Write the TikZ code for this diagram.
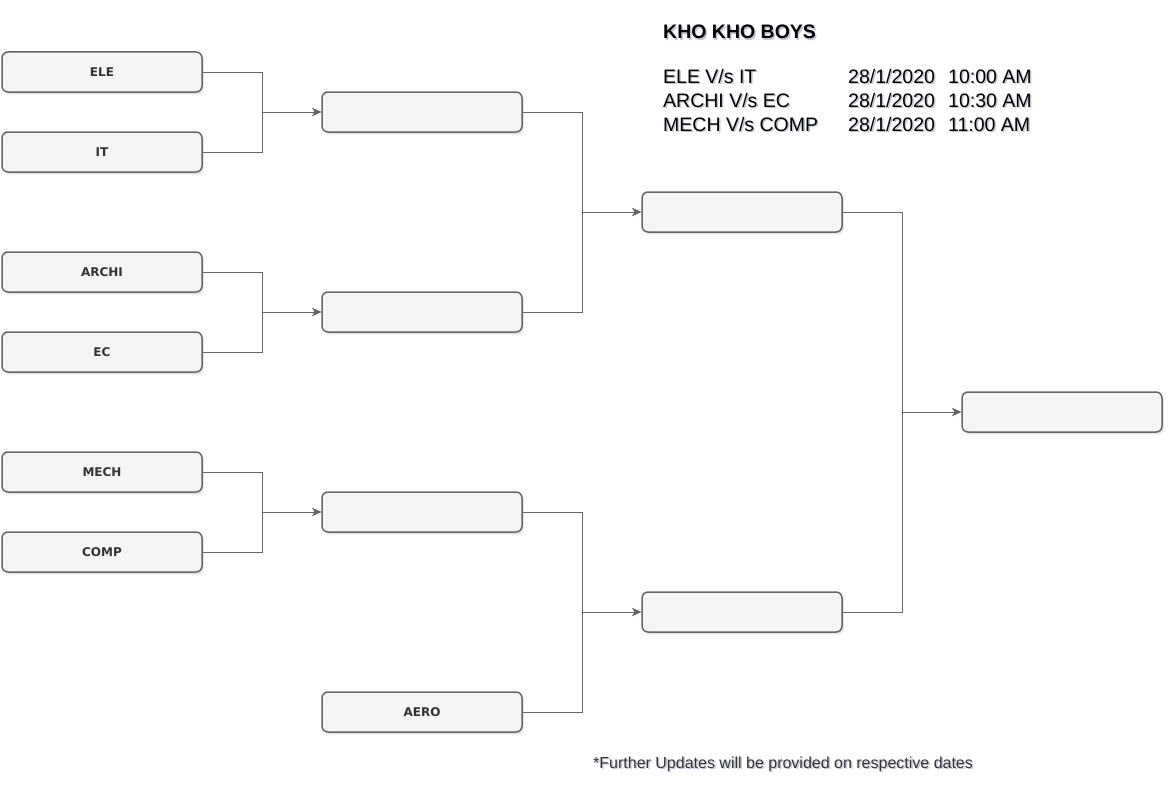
\documentclass[tikz,border=0pt]{standalone}
\usepackage{fontspec}
\setmainfont{Liberation Sans}
\newfontfamily\teamfont{DejaVu Sans}
\usetikzlibrary{arrows.meta, shadows}
\definecolor{boxFill}{HTML}{F5F5F5}
\definecolor{boxLine}{HTML}{666666}
\definecolor{labelDark}{HTML}{333333}
\definecolor{shadeBlue}{HTML}{A7AEC2}
\newcommand{\shadowtext}[1]{\makebox[0pt][l]{\hspace{1.5pt}\raisebox{-1.5pt}{\color{shadeBlue!70}#1}}#1}

\begin{document}
\begin{tikzpicture}[x=1pt, y=-1pt,
    team/.style={rectangle, rounded corners=6pt, draw=boxLine, line width=1.5pt,
      fill=boxFill, minimum width=200pt, minimum height=40pt, text=labelDark,
      font=\teamfont\bfseries\fontsize{12}{14}\selectfont,
      drop shadow={shadow xshift=2pt, shadow yshift=-2.5pt, opacity=0.3, fill=shadeBlue}},
    link/.style={-{Stealth[length=9pt, width=8pt, inset=2.5pt]}, draw=boxLine, line width=0.8pt},
    note/.style={anchor=base west, inner sep=0pt}]
    \useasboundingbox (0,0) rectangle (1174,784);
    \foreach \i/\w/\y in {ele/ELE/72, it/IT/152, archi/ARCHI/272, ec/EC/352,
                          mech/MECH/472, comp/COMP/552} {
      \node[team] (\i) at (102,\y) {\w};
    }
    \foreach \i/\y in {m1/112, m2/312, m3/512} {
      \node[team] (\i) at (422,\y) {};
    }
    \node[team] (aero) at (422,712) {AERO};
    \node[team] (s1) at (742,212) {};
    \node[team] (s2) at (742,612) {};
    \node[team] (fin) at (1062,412) {};

    \foreach \a/\b in {ele/m1, it/m1, archi/m2, ec/m2, mech/m3, comp/m3,
                       m1/s1, m2/s1, m3/s2, aero/s2, s1/fin, s2/fin}
      \draw[link] (\a.east) -- ++(60,0) |- (\b.west);

    \node[note, font=\bfseries\fontsize{19.5}{23}\selectfont] (title) at (663,39)
      {\shadowtext{KHO KHO BOYS}};
    \foreach \i/\m/\d/\t/\y in {1/{ELE V/s IT}/{28/1/2020}/{10:00 AM}/83,
                                2/{ARCHI V/s EC}/{28/1/2020}/{10:30 AM}/107,
                                3/{MECH V/s COMP}/{28/1/2020}/{11:00 AM}/131} {
      \node[note, font=\fontsize{19.5}{23}\selectfont] (game\i) at (663,\y)
        {\shadowtext{\makebox[185pt][l]{\m}\makebox[100pt][l]{\d}\t}};
    }
    \node[note, font=\fontsize{16}{19}\selectfont, text=labelDark] (update) at (593,768)
      {\shadowtext{*Further Updates will be provided on respective dates}};
\end{tikzpicture}
\end{document}
